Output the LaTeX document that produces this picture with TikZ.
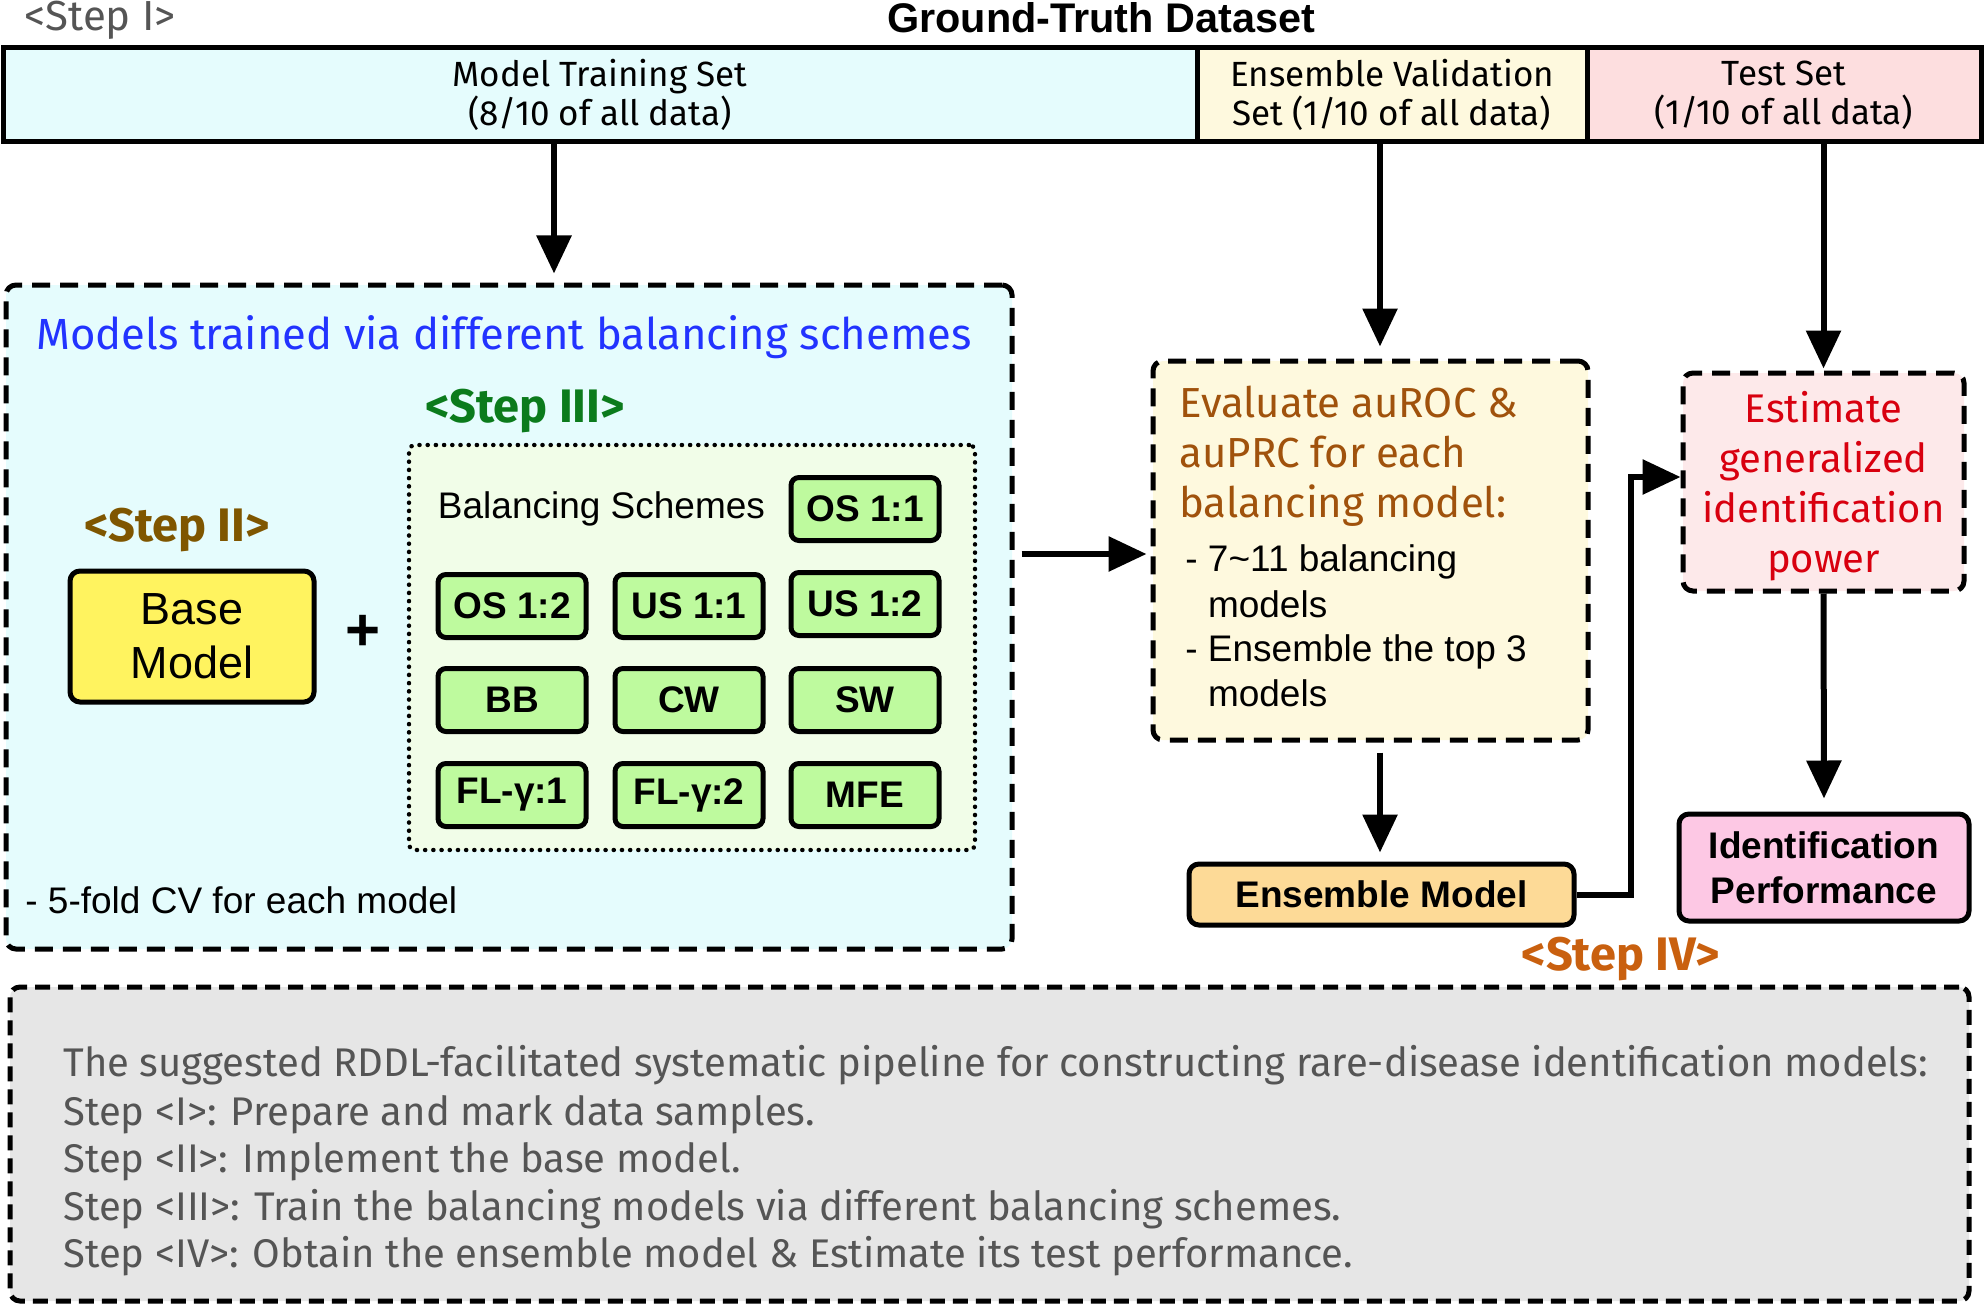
\documentclass[tikz,border=0pt]{standalone}
\usepackage{fontspec}
\setmainfont{Liberation Sans}
\newfontfamily\comicfont{Fira Sans}
\usetikzlibrary{arrows.meta}

\definecolor{trainfill}{HTML}{E5FCFD}
\definecolor{validfill}{HTML}{FEF9DE}
\definecolor{testfill}{HTML}{FDDEDF}
\definecolor{schemefill}{HTML}{BEFA9E}
\definecolor{dotfill}{HTML}{F1FDE8}
\definecolor{basefill}{HTML}{FFF35F}
\definecolor{ensfill}{HTML}{FDDA97}
\definecolor{estfill}{HTML}{FDE9EA}
\definecolor{idfill}{HTML}{FDC8E4}
\definecolor{notefill}{HTML}{E6E6E6}
\definecolor{titleblue}{HTML}{2233FF}
\definecolor{stepgreen}{HTML}{0B7B1C}
\definecolor{stepbrown}{HTML}{7F5600}
\definecolor{evalbrown}{HTML}{A0520C}
\definecolor{steporange}{HTML}{C9600F}
\definecolor{estred}{HTML}{D8000F}
\definecolor{notegray}{HTML}{555555}

\tikzset{
  setbox/.style={draw, line width=2.5pt, minimum height=47pt, inner sep=0pt, align=center,
    font=\comicfont\fontsize{17.5}{19.5}\selectfont},
  schemebox/.style={draw, line width=2.5pt, rounded corners=4pt, fill=schemefill,
    minimum width=74pt, minimum height=31.5pt, inner sep=0pt, font=\bfseries\fontsize{18.5}{20}\selectfont},
  dashbox/.style={draw, line width=2.5pt, dash pattern=on 9pt off 5pt, rounded corners=5pt, inner sep=0pt},
  solidbox/.style={draw, line width=2.5pt, rounded corners=5pt, inner sep=0pt, align=center},
  steptext/.style={font=\comicfont\bfseries\fontsize{23.5}{26}\selectfont},
  plaintext/.style={font=\fontsize{18.5}{22}\selectfont},
  evaltext/.style={font=\comicfont\fontsize{21}{25}\selectfont, text=evalbrown, anchor=base west, inner sep=0pt},
  notetext/.style={font=\comicfont\fontsize{20}{24}\selectfont, text=notegray, anchor=base west, inner sep=0pt},
  arr/.style={line width=3pt, -{Triangle[length=19pt,width=17pt]}},
}

\begin{document}
\begin{tikzpicture}[x=0.5pt,y=-0.5pt]
\useasboundingbox (0,0) rectangle (1984,1305);

% Step I: data split
\node[font=\comicfont\fontsize{21}{24}\selectfont, text=notegray] (stepone) at (100,20) {<Step I>};
\node[font=\bfseries\fontsize{20.7}{24}\selectfont] (gtitle) at (1101,18) {Ground-Truth Dataset};
\node[setbox, fill=trainfill, minimum width=597pt] (train) at (600,95) {Model Training Set\\(8/10 of all data)};
\node[setbox, fill=validfill, minimum width=195pt] (valid) at (1392,95) {Ensemble Validation\\Set (1/10 of all data)};
\node[setbox, fill=testfill, minimum width=197pt] (test) at (1784,95) {Test Set\\(1/10 of all data)};

% Steps II and III: training
\node[dashbox, fill=trainfill, minimum width=503pt, minimum height=332pt] (modelbox) at (509,617) {};
\node[font=\comicfont\fontsize{21.8}{25}\selectfont, text=titleblue] (mtitle) at (504,337) {Models trained via different balancing schemes};
\node[steptext, text=stepgreen] (stepthree) at (525,411) {<Step III>};
\node[draw, line width=2.2pt, dash pattern=on 0.1pt off 4pt, line cap=round, rounded corners=3pt,
  fill=dotfill, minimum width=283pt, minimum height=202.5pt] (schemes) at (692,647.5) {};
\node[plaintext] (schemelabel) at (601.5,509) {Balancing Schemes};
\node[schemebox] (os11) at (865,509) {OS 1:1};
\node[schemebox] (os12) at (512,606) {OS 1:2};
\node[schemebox] (us11) at (689,606) {US 1:1};
\node[schemebox] (us12) at (865,604) {US 1:2};
\node[schemebox] (bb) at (512,700) {BB};
\node[schemebox] (cw) at (689,700) {CW};
\node[schemebox] (sw) at (865,700) {SW};
\node[schemebox] (fl1) at (512,795) {FL-γ:1};
\node[schemebox] (fl2) at (689,795) {FL-γ:2};
\node[schemebox] (mfe) at (865,795) {MFE};
\node[steptext, text=stepbrown] (steptwo) at (177,530) {<Step II>};
\node[solidbox, fill=basefill, minimum width=122pt, minimum height=65.5pt,
  font=\fontsize{22.5}{27}\selectfont] (base) at (192,636.5) {Base\\Model};
\node[font=\bfseries\fontsize{30}{30}\selectfont] (plus) at (363,633) {+};
\node[plaintext, anchor=base west, inner sep=0pt] (cvnote) at (25,913) {- 5-fold CV for each model};

% Step IV: ensemble and test
\node[dashbox, fill=validfill, minimum width=217.5pt, minimum height=189.5pt] (evalbox) at (1370.5,550.5) {};
\node[evaltext] (ev1) at (1179,417) {Evaluate auROC \&};
\node[evaltext] (ev2) at (1179,467) {auPRC for each};
\node[evaltext] (ev3) at (1179,517) {balancing model:};
\node[plaintext, anchor=base west, inner sep=0pt] (ev4) at (1185,571) {- 7\textasciitilde11 balancing};
\node[plaintext, anchor=base west, inner sep=0pt] (ev5) at (1185,617) {\phantom{- }models};
\node[plaintext, anchor=base west, inner sep=0pt] (ev6) at (1185,661) {- Ensemble the top 3};
\node[plaintext, anchor=base west, inner sep=0pt] (ev7) at (1185,706) {\phantom{- }models};
\node[solidbox, fill=ensfill, minimum width=192.5pt, minimum height=30.5pt,
  font=\bfseries\fontsize{18.5}{22}\selectfont] (ensemble) at (1381.5,894.5) {Ensemble Model};
\node[dashbox, fill=estfill, minimum width=140.5pt, minimum height=109pt] (estimate) at (1823.5,482) {};
\node[align=center, font=\comicfont\fontsize{20}{25}\selectfont, text=estred] (esttext) at (1823.5,486)
  {Estimate\\generalized\\identification\\power};
\node[solidbox, fill=idfill, minimum width=145pt, minimum height=53.5pt,
  font=\bfseries\fontsize{18.5}{22.5}\selectfont] (ident) at (1824,867.5) {Identification\\Performance};
\node[steptext, text=steporange] (stepfour) at (1621,959) {<Step IV>};

% connectors
\draw[arr, shorten >=4.5pt] (554,0 |- train.south) -- (554,0 |- modelbox.north);
\draw[arr, shorten >=6pt] (1380,0 |- valid.south) -- (1380,0 |- evalbox.north);
\draw[arr, shorten >=1pt] (estimate.north |- test.south) -- (estimate.north);
\draw[arr, shorten <=3.5pt, shorten >=2pt] (modelbox.east |- 0,554) -- (evalbox.west |- 0,554);
\draw[arr, shorten <=5pt, shorten >=4.5pt] (1380,0 |- evalbox.south) -- (1380,0 |- ensemble.north);
\draw[arr] (ensemble.east) -- ++(54,0) |- ([yshift=2.5pt]estimate.west);
\draw[arr, shorten >=6.5pt] (estimate.south) -- (ident.north);

% summary
\node[dashbox, dash pattern=on 7.5pt off 4pt, fill=notefill, minimum width=979.5pt, minimum height=157pt] (notebox) at (989.5,1144) {};
\node[notetext] (note1) at (63,1076) {The suggested RDDL-facilitated systematic pipeline for constructing rare-disease identification models:};
\node[notetext] (note2) at (63,1125) {Step <I>: Prepare and mark data samples.};
\node[notetext] (note3) at (63,1172) {Step <II>: Implement the base model.};
\node[notetext] (note4) at (63,1220) {Step <III>: Train the balancing models via different balancing schemes.};
\node[notetext] (note5) at (63,1267) {Step <IV>: Obtain the ensemble model \& Estimate its test performance.};
\end{tikzpicture}
\end{document}
